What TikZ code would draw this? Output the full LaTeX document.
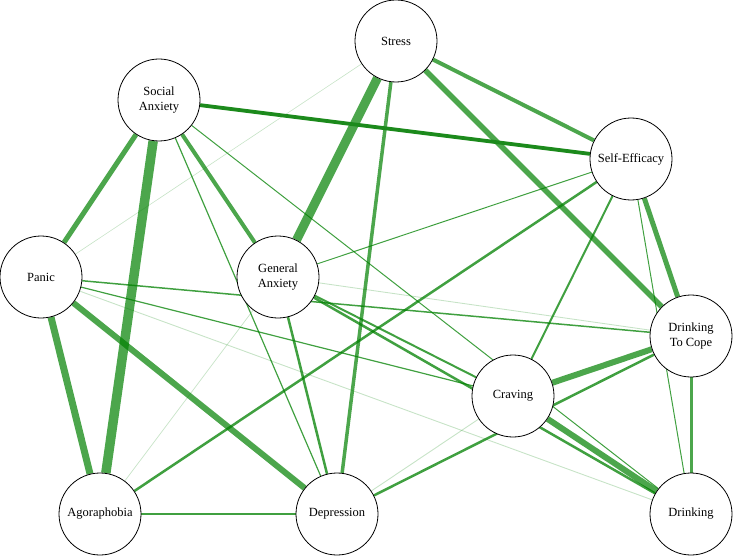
\documentclass[tikz,border=0pt]{standalone}
\usepackage{fontspec}
\setmainfont{Liberation Serif}
\pgfdeclarelayer{edges}
\pgfsetlayers{edges,main}
\definecolor{eg}{RGB}{0,128,0}
\definecolor{egdark}{RGB}{28,138,28}
\begin{document}
\begin{tikzpicture}[x=1pt,y=-1pt,
  vnode/.style={circle,draw=black,line width=0.8pt,fill=white,minimum size=82pt,inner sep=0pt,align=center,font=\fontsize{12.5}{15.5}\selectfont},
  ed/.style={draw=eg,draw opacity=0.7,line width=#1},
  edthin/.style={draw=eg,draw opacity=0.75,line width=#1},
  edfaint/.style={draw=eg,draw opacity=0.22,line width=#1},
  eddark/.style={draw=egdark,line width=#1}]
\useasboundingbox (0,0) rectangle (735,556);
\node[vnode] (st) at (396,41) {Stress};
\node[vnode] (sa) at (159,100) {Social\\Anxiety};
\node[vnode] (se) at (631,159) {Self-Efficacy};
\node[vnode] (pa) at (41,277) {Panic};
\node[vnode] (ga) at (278,277) {General\\Anxiety};
\node[vnode] (dc) at (691,336) {Drinking\\To Cope};
\node[vnode] (cr) at (513,396) {Craving};
\node[vnode] (ag) at (100,514) {Agoraphobia};
\node[vnode] (de) at (337,514) {Depression};
\node[vnode] (dr) at (691,514) {Drinking};
\begin{pgfonlayer}{edges}
% faint
\draw[edfaint=0.6] (st) -- (pa);
\draw[edfaint=0.7] (ga) -- (ag);
\draw[edfaint=0.9] (ga) -- (dc);
\draw[edfaint=0.9] (pa) -- (dr);
\draw[edfaint=0.9] (cr) -- (de);
% thin
\draw[edthin=1.0] (sa) -- (dr);
\draw[edthin=1.0] (se) -- (ga);
\draw[edthin=1.0] (se) -- (dr);
\draw[edthin=1.2] (sa) -- (de);
\draw[edthin=1.2] (pa) -- (cr);
\draw[edthin=1.5] (pa) -- (dc);
\draw[edthin=2.0] (se) -- (cr);
\draw[edthin=2.0] (ga) -- (cr);
\draw[edthin=2.5] (ga) -- (dr);
\draw[edthin=2.5] (dc) -- (de);
\draw[edthin=2.5] (se) -- (ag);
\draw[edthin=2.5] (ga) -- (de);
\draw[edthin=2.5] (ag) -- (de);
% medium / thick
\draw[ed=3] (dc) -- (dr);
\draw[ed=3.5] (st) -- (de);
\draw[ed=4] (st) -- (se);
\draw[ed=4] (sa) -- (ga);
\draw[ed=5] (sa) -- (pa);
\draw[ed=5] (se) -- (dc);
\draw[ed=5.5] (st) -- (dc);
\draw[ed=6] (pa) -- (de);
\draw[ed=6] (cr) -- (dc);
\draw[ed=6] (cr) -- (dr);
\draw[ed=7] (pa) -- (ag);
\draw[ed=9] (st) -- (ga);
\draw[ed=9.5] (sa) -- (ag);
\draw[eddark=3.8] (sa) -- (se);
\end{pgfonlayer}
\end{tikzpicture}
\end{document}
